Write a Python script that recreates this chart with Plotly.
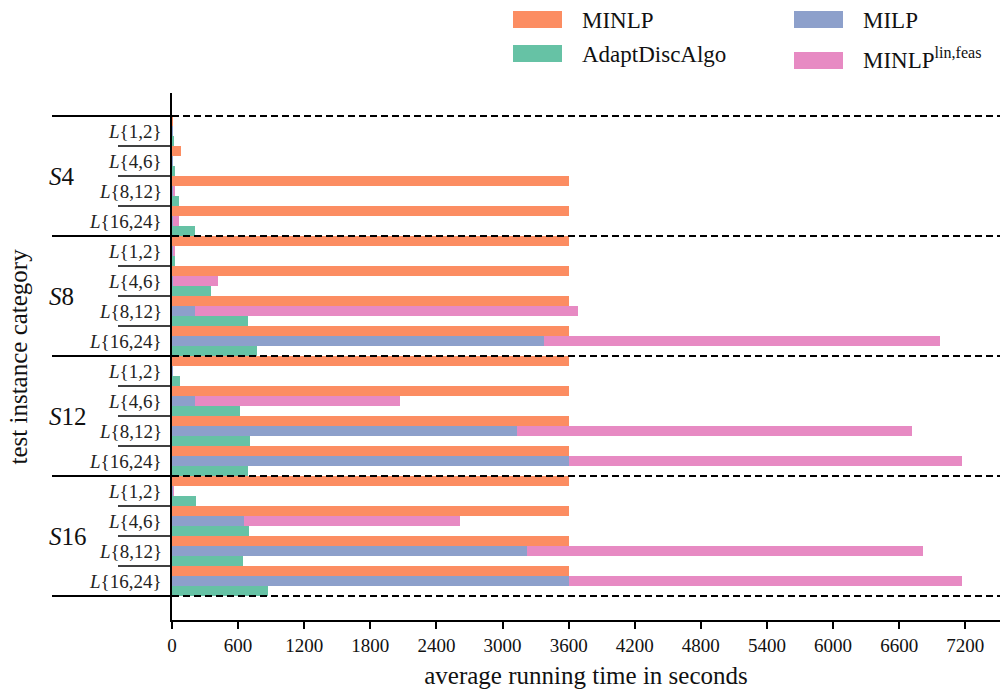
import numpy as np
import plotly.graph_objects as go

# instance categories: graph size S and load-scenario class L
sizes = ["4", "8", "12", "16"]
loads = ["1,2", "4,6", "8,12", "16,24"]

# average running times in seconds, one value per (S, L) category, top to bottom
minlp = [1, 82, 3600, 3600,
         3600, 3600, 3600, 3600,
         3600, 3600, 3600, 3600,
         3600, 3600, 3600, 3600]
milp = [0.3, 0.5, 2, 4,
        2, 5, 209, 3380,
        1, 209, 3127, 3600,
        2, 655, 3218, 3600]
minlp_lin_feas = [1, 1, 27, 64,
                  27, 417, 3682, 6968,
                  1, 2065, 6714, 7168,
                  15, 2618, 6818, 7168]
adapt_disc = [18, 27, 64, 209,
              25, 353, 690, 773,
              73, 618, 709, 690,
              218, 700, 645, 873]

x_ticks = [0, 600, 1200, 1800, 2400, 3000, 3600, 4200, 4800, 5400, 6000, 6600, 7200]

C_MINLP = "#fc8d62"
C_ADAPT = "#66c2a5"
C_MILP = "#8da0cb"
C_LIN = "#e78ac3"

SERIF = "Liberation Serif"

# pixel geometry of the drawing area
W, H = 1000, 693
L_M, R_M, T_M, B_M = 172, 0, 93, 73
PW, PH = W - L_M - R_M, H - T_M - B_M


def px(x):
    return (x - L_M) / PW


def py(y):
    return (H - B_M - y) / PH


n_cat = len(sizes) * len(loads)
pos = np.arange(n_cat)

fig = go.Figure()
# MINLP on top, MILP drawn over MINLP^lin,feas in the middle, AdaptDiscAlgo at the bottom
fig.add_trace(go.Bar(y=pos, x=minlp, orientation="h", marker_color=C_MINLP,
                     marker_line_width=0, offsetgroup="a", name="MINLP", showlegend=False))
fig.add_trace(go.Bar(y=pos, x=minlp_lin_feas, orientation="h", marker_color=C_LIN,
                     marker_line_width=0, offsetgroup="b", name="MINLP lin,feas", showlegend=False))
fig.add_trace(go.Bar(y=pos, x=milp, orientation="h", marker_color=C_MILP,
                     marker_line_width=0, offsetgroup="b", name="MILP", showlegend=False))
fig.add_trace(go.Bar(y=pos, x=adapt_disc, orientation="h", marker_color=C_ADAPT,
                     marker_line_width=0, offsetgroup="c", name="AdaptDiscAlgo", showlegend=False))

shapes = []
annotations = []
n_l = len(loads)

# group separators: solid in the label column, dashed across the bars
for g in range(len(sizes) + 1):
    yb = g * n_l - 0.5
    shapes.append(dict(type="line", xref="paper", yref="y", x0=px(52), x1=0, y0=yb, y1=yb,
                       line=dict(color="black", width=2)))
    shapes.append(dict(type="line", xref="paper", yref="y", x0=0, x1=1, y0=yb, y1=yb,
                       line=dict(color="black", width=2, dash="7px,4px")))
# separators between load classes inside a group
for g in range(len(sizes)):
    for j in range(1, n_l):
        yb = g * n_l + j - 0.5
        shapes.append(dict(type="line", xref="paper", yref="y", x0=px(118), x1=0, y0=yb, y1=yb,
                           line=dict(color="black", width=1.5)))

# category labels
for g, s in enumerate(sizes):
    annotations.append(dict(xref="paper", yref="y", x=px(47), y=g * n_l + (n_l - 1) / 2,
                            text="<i>S</i>" + s, showarrow=False, xanchor="left", yanchor="middle",
                            font=dict(family=SERIF, size=25, color="#111")))
    for j, l in enumerate(loads):
        annotations.append(dict(xref="paper", yref="y", x=px(164), y=g * n_l + j,
                                text="<i>L</i>{" + l + "}", showarrow=False, xanchor="right",
                                yanchor="middle", font=dict(family=SERIF, size=19, color="#222")))

# y axis title
annotations.append(dict(xref="paper", yref="paper", x=px(18), y=0.5, text="test instance category",
                        textangle=-90, showarrow=False, xanchor="center", yanchor="middle",
                        font=dict(family=SERIF, size=25, color="#111")))

# legend, two columns
legend_items = [
    ("MINLP", C_MINLP, 513, 11, 28, 20),
    ("AdaptDiscAlgo", C_ADAPT, 513, 45, 62, 54),
    ("MILP", C_MILP, 794, 11, 28, 20),
    ("MINLP<sup>lin,feas</sup>", C_LIN, 794, 52, 69, 58),
]
for label, col, x0, y0, y1, ty in legend_items:
    shapes.append(dict(type="rect", xref="paper", yref="paper", x0=px(x0), x1=px(x0 + 49),
                       y0=py(y1), y1=py(y0), fillcolor=col, line=dict(width=0)))
    annotations.append(dict(xref="paper", yref="paper", x=px(x0 + 67), y=py(ty), text=label,
                            showarrow=False, xanchor="left", yanchor="middle",
                            font=dict(family=SERIF, size=23, color="#111")))

fig.update_layout(
    width=W, height=H,
    margin=dict(l=L_M, r=R_M, t=T_M, b=B_M),
    paper_bgcolor="white", plot_bgcolor="white",
    barmode="group", bargap=0, bargroupgap=0,
    shapes=shapes, annotations=annotations,
    showlegend=False,
)
fig.update_xaxes(
    range=[0, 7515], tickvals=x_ticks, ticktext=[str(t) for t in x_ticks],
    ticks="outside", ticklen=7, tickwidth=1.5, tickcolor="black",
    showline=True, linecolor="black", linewidth=2, showgrid=False, zeroline=False,
    tickfont=dict(family=SERIF, size=19, color="#111"),
    title=dict(text="average running time in seconds", standoff=12,
               font=dict(family=SERIF, size=25, color="#111")),
)
fig.update_yaxes(
    range=[n_cat - 0.5 + 0.8, -0.5 - 0.767], showticklabels=False, ticks="",
    showline=True, linecolor="black", linewidth=2, showgrid=False, zeroline=False,
)

fig.write_html("out.html")
